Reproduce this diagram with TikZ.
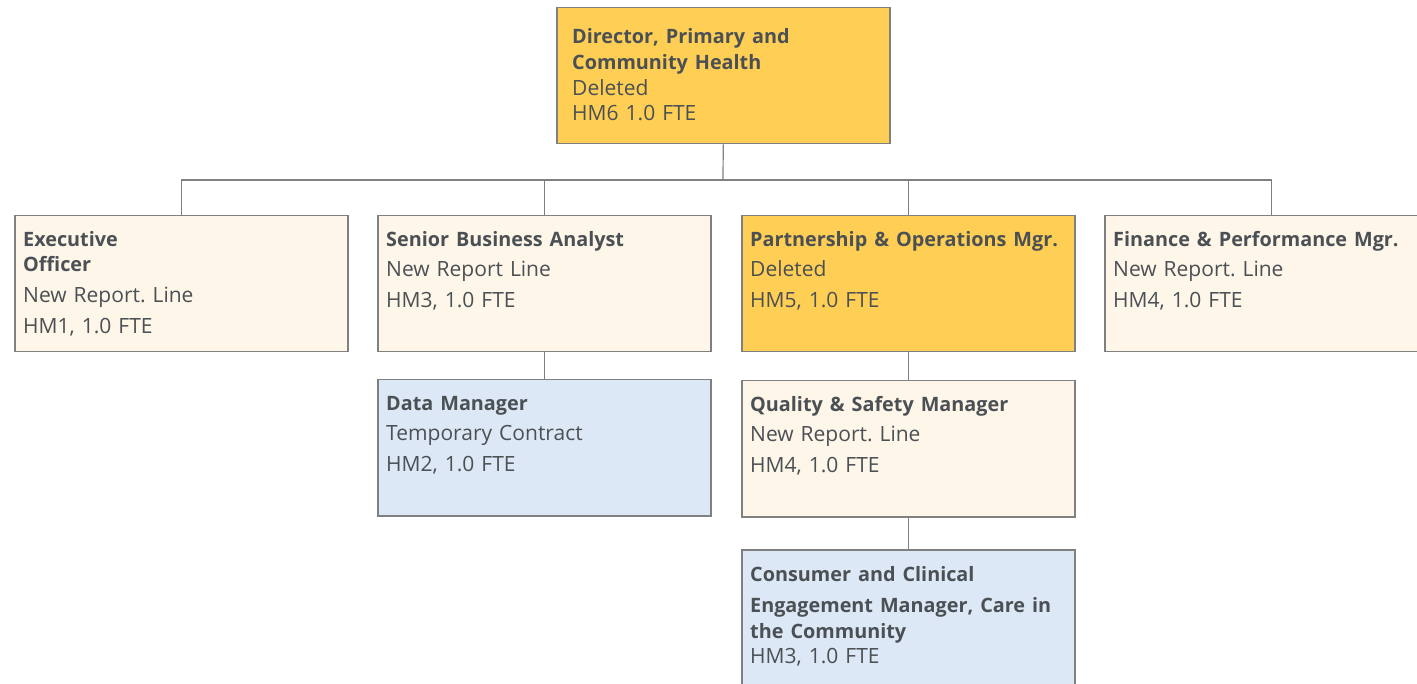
\documentclass[tikz,border=0pt]{standalone}
\usepackage{fontspec}
\setmainfont{Open Sans}
\frenchspacing
\definecolor{yel}{HTML}{FFCE54}
\definecolor{cream}{HTML}{FDF6E9}
\definecolor{pale}{HTML}{DCE8F5}
\definecolor{edge}{HTML}{808080}
\definecolor{ink}{HTML}{4B5055}
\newcommand\hd[1]{{\fontsize{19.8}{25}\selectfont\bfseries #1}}
\tikzset{
  post/.style={draw=edge, line width=1.5pt, anchor=north west, minimum width=333pt, minimum height=136pt, inner sep=0pt},
  txt/.style={anchor=base west, inner sep=0pt, text width=320pt, align=left, text=ink, font=\fontsize{21}{25}\selectfont\frenchspacing},
  wire/.style={draw=edge, line width=1.2pt},
}
\begin{document}
\begin{tikzpicture}[x=1pt,y=-1pt]
\useasboundingbox (0,0) rectangle (1417,684);
\clip (0,0) rectangle (1417,684);
% boxes
\node[post, fill=yel] (dir) at (556,7) {};
\node[post, fill=cream] (exe) at (14,215) {};
\node[post, fill=cream] (sba) at (377,215) {};
\node[post, fill=yel] (par) at (741,215) {};
\node[post, fill=cream] (fin) at (1104,215) {};
\node[post, fill=pale] (dat) at (377,379) {};
\node[post, fill=cream] (qua) at (741,380) {};
\node[post, fill=pale] (con) at (741,549) {};
% texts
\node[txt] (dirT) at (572,44) {\hd{Director, Primary and}\\[1pt]\hd{Community Health}\\[1pt]Deleted\\HM6 1.0 FTE};
\node[txt] (exeT) at (23,247) {\hd{Executive}\\\hd{Officer}\\[6pt]New Report. Line\\[6pt]HM1, 1.0 FTE};
\node[txt] (sbaT) at (386,247) {\hd{Senior Business Analyst}\\[5pt]New Report Line\\[6pt]HM3, 1.0 FTE};
\node[txt] (parT) at (750,247) {\hd{Partnership \& Operations Mgr.}\\[5pt]Deleted\\[6pt]HM5, 1.0 FTE};
\node[txt] (finT) at (1113,247) {\hd{Finance \& Performance Mgr.}\\[5pt]New Report. Line\\[6pt]HM4, 1.0 FTE};
\node[txt] (datT) at (386,411) {\hd{Data Manager}\\[5pt]Temporary Contract\\[6pt]HM2, 1.0 FTE};
\node[txt] (quaT) at (750,412) {\hd{Quality \& Safety Manager}\\[5pt]New Report. Line\\[6pt]HM4, 1.0 FTE};
\node[txt] (conT) at (750,581) {\hd{Consumer and Clinical}\\[6pt]\hd{Engagement Manager, Care in}\\[1pt]\hd{the Community}\\HM3, 1.0 FTE};
% connectors
\coordinate (bus) at (723,180);
\draw[wire] (dir.south) -- (bus);
\draw[wire] (exe.north) |- (bus);
\draw[wire] (sba.north) |- (bus);
\draw[wire] (par.north) |- (bus);
\draw[wire] (fin.north) |- (bus);
\draw[wire] (sba.south) -- (dat.north);
\draw[wire] (par.south) -- (qua.north);
\draw[wire] (qua.south) -- (con.north);
\end{tikzpicture}
\end{document}
